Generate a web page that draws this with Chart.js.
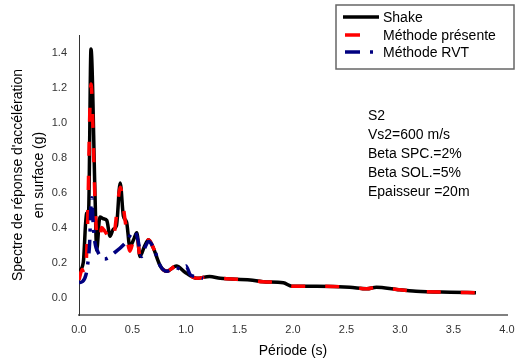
<!DOCTYPE html>
<html lang="fr">
<head>
<meta charset="UTF-8">
<title>Spectre de réponse</title>
<script src="https://cdn.jsdelivr.net/npm/chart.js"></script>
<style>
  body { margin: 0; background: #fff; }
  #wrap { width: 516px; height: 363px; position: relative; }
</style>
</head>
<body>
<div id="wrap"><canvas id="spectre"></canvas></div>
<script>
// données
const periodeShake = [0, 0.04, 0.07, 0.09, 0.112, 0.15, 0.165, 0.195, 0.23, 0.26, 0.29, 0.32, 0.35, 0.385, 0.415, 0.445, 0.475, 0.51, 0.54, 0.57, 0.61, 0.65, 0.69, 0.76, 0.82, 0.91, 1.0, 1.1, 1.22, 1.32, 1.6, 1.72, 1.91, 1.99, 2.22, 2.53, 2.69, 2.78, 2.97, 3.15, 3.47, 3.71];
const accShake = [0.15, 0.20, 0.48, 0.50, 1.42, 0.58, 0.27, 0.46, 0.45, 0.44, 0.35, 0.39, 0.41, 0.655, 0.465, 0.43, 0.29, 0.33, 0.37, 0.235, 0.29, 0.33, 0.29, 0.18, 0.15, 0.18, 0.14, 0.11, 0.12, 0.11, 0.10, 0.09, 0.084, 0.065, 0.065, 0.059, 0.05, 0.059, 0.046, 0.036, 0.03, 0.027];

const periodePresente = [0, 0.03, 0.05, 0.075, 0.112, 0.15, 0.17, 0.196, 0.21, 0.24, 0.27, 0.29, 0.33, 0.37, 0.385, 0.43, 0.475, 0.51, 0.54, 0.57, 0.61, 0.65, 0.69, 0.76, 0.82, 0.91, 1.0, 1.1, 1.22, 1.32, 1.6, 1.72, 1.91, 1.99, 2.22, 2.53, 2.69, 2.78, 2.97, 3.15, 3.47, 3.71];
const accPresente = [0.10, 0.16, 0.13, 0.30, 1.22, 0.55, 0.33, 0.33, 0.40, 0.38, 0.35, 0.32, 0.37, 0.58, 0.63, 0.445, 0.265, 0.33, 0.37, 0.235, 0.29, 0.33, 0.29, 0.18, 0.15, 0.18, 0.14, 0.11, 0.12, 0.11, 0.10, 0.09, 0.084, 0.065, 0.065, 0.059, 0.05, 0.059, 0.046, 0.036, 0.03, 0.027];

const periodeRVT = [0, 0.03, 0.065, 0.085, 0.1, 0.11, 0.12, 0.13, 0.145, 0.17, 0.24, 0.34, 0.43, 0.52, 0.55, 0.585, 0.62, 0.65, 0.7, 0.76, 0.82, 0.9, 0.97, 1.0, 1.04, 1.1, 1.16];
const accRVT = [0.085, 0.09, 0.13, 0.21, 0.32, 0.5, 0.57, 0.45, 0.33, 0.27, 0.22, 0.26, 0.31, 0.38, 0.33, 0.235, 0.29, 0.32, 0.28, 0.18, 0.15, 0.17, 0.16, 0.18, 0.13, 0.12, 0.11];

const yTicks = [0, 0.2, 0.4, 0.6, 0.8, 1.0, 1.2, 1.4];
const xTicks = [0, 0.5, 1.0, 1.5, 2.0, 2.5, 3.0, 3.5, 4.0];

const legendLabels = ['Shake', 'Méthode présente', 'Méthode RVT'];
const infoLines = ['S2', 'Vs2=600 m/s', 'Beta SPC.=2%', 'Beta SOL.=5%', 'Epaisseur =20m'];

const FONT = 'Arial, "Liberation Sans", sans-serif';

function pts(xs, ys) {
    return xs.map((x, i) => ({ x: x, y: ys[i] }));
}

// légende encadrée + texte d'annotation
const extras = {
    id: 'extras',
    afterDraw(chart) {
        const ctx = chart.ctx;
        const ds = chart.data.datasets;
        ctx.save();
        ctx.fillStyle = '#fff';
        ctx.fillRect(336, 5, 178, 64);
        ctx.strokeStyle = '#666';
        ctx.lineWidth = 1.5;
        ctx.strokeRect(336, 5, 178, 64);

        const rows = [17, 35, 52];
        ctx.font = '14px ' + FONT;
        ctx.textBaseline = 'middle';
        ctx.textAlign = 'left';
        rows.forEach((y, i) => {
            ctx.strokeStyle = ds[i].borderColor;
            ctx.lineWidth = 3.5;
            if (i === 0) {
                ctx.beginPath(); ctx.moveTo(343, y); ctx.lineTo(379, y); ctx.stroke();
            } else if (i === 1) {
                ctx.beginPath(); ctx.moveTo(345, y); ctx.lineTo(360, y); ctx.stroke();
            } else {
                ctx.beginPath(); ctx.moveTo(345, y); ctx.lineTo(360, y); ctx.stroke();
                ctx.beginPath(); ctx.moveTo(370, y); ctx.lineTo(373, y); ctx.stroke();
            }
            ctx.fillStyle = '#000';
            ctx.fillText(legendLabels[i], 383, y + 1);
        });

        ctx.textBaseline = 'alphabetic';
        infoLines.forEach((t, i) => {
            ctx.fillText(t, 368, 120 + i * 19);
        });
        ctx.restore();
    }
};

new Chart(document.getElementById('spectre').getContext('2d'), {
    type: 'line',
    data: {
        datasets: [{
            label: legendLabels[0],
            data: pts(periodeShake, accShake),
            borderColor: '#000000',
            borderWidth: 3.5,
            order: 3
        }, {
            label: legendLabels[1],
            data: pts(periodePresente, accPresente),
            borderColor: '#ff0000',
            borderWidth: 3.5,
            borderDash: [14, 20],
            order: 2
        }, {
            label: legendLabels[2],
            data: pts(periodeRVT, accRVT),
            borderColor: '#000080',
            borderWidth: 3.5,
            borderDash: [14, 8, 3, 8],
            order: 1
        }]
    },
    options: {
        responsive: true,
        maintainAspectRatio: false,
        animation: false,
        layout: { padding: { top: 35, right: 9, left: 0, bottom: 0 } },
        elements: {
            point: { radius: 0 },
            line: { cubicInterpolationMode: 'monotone', fill: false, borderCapStyle: 'butt' }
        },
        plugins: {
            legend: { display: false },
            tooltip: { enabled: false }
        },
        scales: {
            x: {
                type: 'linear',
                min: 0,
                max: 4,
                afterFit: s => { s.height = 48; s.paddingRight = 0; s.paddingLeft = 0; },
                afterBuildTicks: s => { s.ticks = xTicks.map(v => ({ value: v })); },
                grid: { display: false, drawTicks: false },
                border: { display: true, color: '#808080', width: 2 },
                ticks: {
                    padding: 8,
                    color: '#333',
                    font: { size: 11, family: FONT },
                    maxRotation: 0,
                    callback: v => v.toFixed(1)
                },
                title: {
                    display: true,
                    text: 'Période (s)',
                    color: '#000',
                    font: { size: 14, family: FONT, lineHeight: 1.2 },
                    padding: { top: 0, bottom: 3 }
                }
            },
            y: {
                min: -0.1,
                max: 1.5,
                afterFit: s => { s.width = 79; s.paddingTop = 0; s.paddingBottom = 0; },
                afterBuildTicks: s => { s.ticks = yTicks.map(v => ({ value: v })); },
                grid: { display: false, drawTicks: false },
                border: { display: true, color: '#333', width: 1 },
                ticks: {
                    padding: 12,
                    color: '#333',
                    font: { size: 11, family: FONT },
                    callback: v => v.toFixed(1)
                },
                title: {
                    display: true,
                    text: ["Spectre de réponse d'accélération", 'en surface (g)'],
                    color: '#000',
                    font: { size: 14, family: FONT, lineHeight: 1.55 },
                    padding: { top: 7, bottom: 0 }
                }
            }
        }
    },
    plugins: [extras]
});
</script>
</body>
</html>
